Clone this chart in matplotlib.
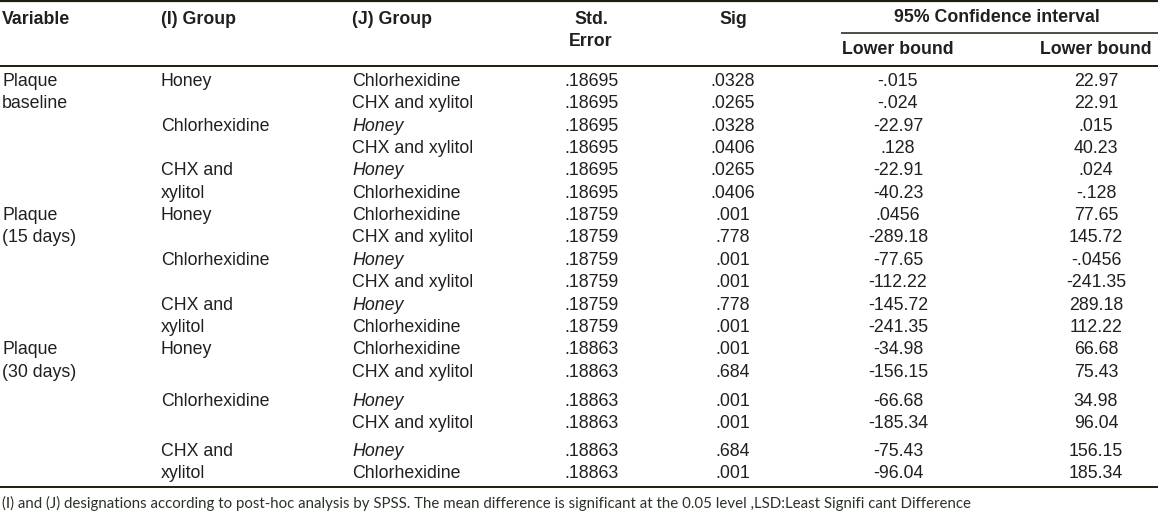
import matplotlib
matplotlib.use("Agg")
import matplotlib.pyplot as plt

# table content
variables = ["Plaque\nbaseline", "Plaque\n(15 days)", "Plaque\n(30 days)"]
i_groups = ["Honey", "Chlorhexidine", "CHX and\nxylitol"]
j_groups = ["Chlorhexidine", "CHX and xylitol", "Honey", "CHX and xylitol", "Honey", "Chlorhexidine"] * 3
std_err = [".18695"] * 6 + [".18759"] * 6 + [".18863"] * 6
sig = [".0328", ".0265", ".0328", ".0406", ".0265", ".0406",
       ".001", ".778", ".001", ".001", ".778", ".001",
       ".001", ".684", ".001", ".001", ".684", ".001"]
lower = ["-.015", "-.024", "-22.97", ".128", "-22.91", "-40.23",
         ".0456", "-289.18", "-77.65", "-112.22", "-145.72", "-241.35",
         "-34.98", "-156.15", "-66.68", "-185.34", "-75.43", "-96.04"]
upper = ["22.97", "22.91", ".015", "40.23", ".024", "-.128",
         "77.65", "145.72", "-.0456", "-241.35", "289.18", "112.22",
         "66.68", "75.43", "34.98", "96.04", "156.15", "185.34"]
headers = ["Variable", "(I) Group", "(J) Group", "Std.\nError", "Sig",
           "95% Confidence interval", "Lower bound", "Lower bound"]
footnote = ("(I) and (J) designations according to post-hoc analysis by SPSS. "
            "The mean difference is significant at the 0.05 level ,LSD:Least Signifi cant Difference")

# layout (pixels)
W, H = 1158, 517
row_y = [81.5 + 22.35 * k for k in range(14)] + [402, 424, 452, 474]
col_x = {"var": 2, "i": 161, "j": 352, "se": 591, "sig": 733, "lo": 898, "hi": 1096}
txt = "#231f20"
rule = "#1f1d10"
fs = 12.8

plt.rcParams["font.family"] = ["Liberation Sans", "DejaVu Sans"]
fig = plt.figure(figsize=(W / 100, H / 100), dpi=100)
ax = fig.add_axes([0, 0, 1, 1])
ax.set_xlim(0, W)
ax.set_ylim(H, 0)
ax.axis("off")

# rules
ax.plot([0, W], [1, 1], color=rule, lw=1.6, solid_capstyle="butt")
ax.plot([841, W], [33, 33], color=rule, lw=1.1, solid_capstyle="butt")
ax.plot([0, W], [66, 66], color=rule, lw=1.4, solid_capstyle="butt")
ax.plot([0, W], [487, 487], color=rule, lw=1.4, solid_capstyle="butt")

# header
hk = dict(fontsize=fs, fontweight="bold", color=txt, va="center")
ax.text(col_x["var"], 19, headers[0], ha="left", **hk)
ax.text(col_x["i"], 19, headers[1], ha="left", **hk)
ax.text(col_x["j"], 19, headers[2], ha="left", **hk)
ax.text(col_x["se"], 19, headers[3].split("\n")[0], ha="center", **hk)
ax.text(col_x["se"], 41, headers[3].split("\n")[1], ha="center", **hk)
ax.text(col_x["sig"], 19, headers[4], ha="center", **hk)
ax.text((col_x["lo"] + col_x["hi"]) / 2, 17, headers[5], ha="center", **hk)
ax.text(col_x["lo"], 50, headers[6], ha="center", **hk)
ax.text(col_x["hi"], 50, headers[7], ha="center", **hk)

bk = dict(fontsize=fs, color=txt, va="center")
# variable and I-group labels, two lines placed on consecutive rows
for g, var in enumerate(variables):
    for n, line in enumerate(var.split("\n")):
        ax.text(col_x["var"], row_y[g * 6 + n], line, ha="left", **bk)
    for k, ig in enumerate(i_groups):
        for n, line in enumerate(ig.split("\n")):
            ax.text(col_x["i"], row_y[g * 6 + k * 2 + n], line, ha="left", **bk)

for r in range(len(j_groups)):
    y = row_y[r]
    style = "italic" if j_groups[r] == "Honey" else "normal"
    ax.text(col_x["j"], y, j_groups[r], ha="left", fontstyle=style, **bk)
    ax.text(col_x["se"], y, std_err[r], ha="center", **bk)
    ax.text(col_x["sig"], y, sig[r], ha="center", **bk)
    ax.text(col_x["lo"], y, lower[r], ha="center", **bk)
    ax.text(col_x["hi"], y, upper[r], ha="center", **bk)

# footnote, scaled to span the same width as the original
foot = ax.text(2, 503, footnote, ha="left", va="center", fontsize=10,
               color="#2a3328", family=["Lato", "DejaVu Sans"])
fig.canvas.draw()
wpx = foot.get_window_extent().width
foot.set_fontsize(10 * 966 / wpx)

fig.savefig("out.png", dpi=100)
